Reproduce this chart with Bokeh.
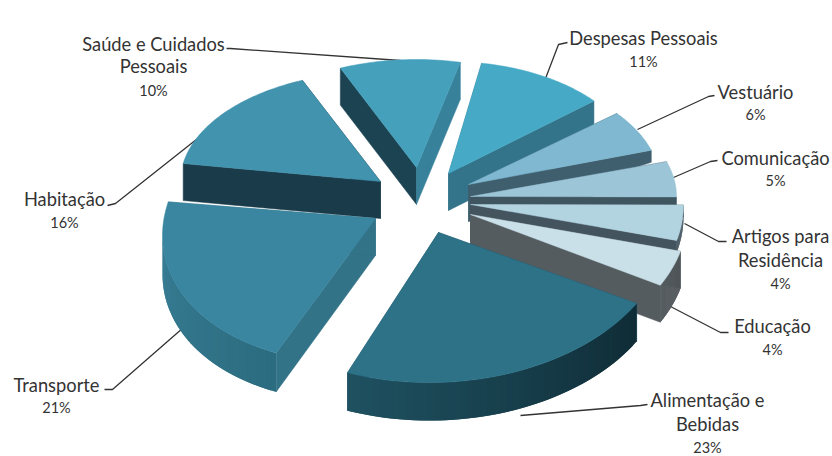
import numpy as np
from bokeh.plotting import figure
from bokeh.embed import file_html
from bokeh.resources import INLINE
from bokeh.core.properties import value

categories = ["Despesas Pessoais", "Vestuário", "Comunicação", "Artigos para\nResidência", "Educação",
              "Alimentação e\nBebidas", "Transporte", "Habitação", "Saúde e Cuidados\nPessoais"]
shares = [11, 6, 5, 4, 4, 23, 21, 16, 10]

START_DEG = 11.0
DEPTH = 37
FONT = "Lato"

# layout per slice: tip x, tip y, rx, ry, skew, rotation nudge, rim depth
geom = [
    (448, 173, 191, 112, 0, -1, 37),
    (468, 184, 192, 112, 0, 0, 12),
    (470, 196, 206, 114, 0, 0, 12),
    (470, 204, 213, 143, 0, 0, 12),
    (470, 214, 217, 146, 0, 0, 37),
    (438, 232, 230, 150, 6, 1.5, 38),
    (375, 218, 213, 143, 17, 6, 39),
    (380, 181, 200, 110, 0, 2, 37),
    (416, 167, 195, 108, 0, 2, 37),
]
top_col = ["#46aac6", "#7fb8d0", "#9cc6d8", "#b2d3e0", "#c9e0e9", "#2e7288", "#3a86a0", "#4293ae", "#45a0bc"]
wall_col = ["#34748a", "#3f5f6e", "#3f5560", "#43545e", "#555c60", "#1d4f60", "#337388", "#1a3c4a", "#1b4352"]
wall_alt = ["#34748a", "#3f5f6e", "#3f5560", "#43545e", "#555c60", "#1d4f60", "#337388", "#1a3c4a", "#37819a"]
outer_a = ["#34748a", "#3f5f6e", "#3f5560", "#43545e", "#4f5558", "#0f2c36", "#2c6c80", "#1a3c4a", "#37819a"]
outer_b = ["#34748a", "#3f5f6e", "#3f5560", "#43545e", "#555c60", "#1f5161", "#3a8198", "#1a3c4a", "#1b4352"]
paint_order = [8, 7, 0, 1, 2, 3, 4, 6, 5]

label_pos = {
    0: (643, [37], 61), 1: (755, [91], 114), 2: (775, [157], 180), 3: (780, [235, 259], 283),
    4: (772, [325], 349), 5: (707, [399, 423], 447), 6: (56, [384], 407), 7: (64, [198], 222),
    8: (153, [43, 65], 90),
}
leaders = [
    ([545, 558, 567], [78, 44, 42]), ([637, 708, 714], [129, 96, 95]), ([673, 710, 717], [177, 161, 160]),
    ([684, 718, 726], [223, 241, 241]), ([670, 720, 728], [306, 332, 332]), ([520, 640, 647], [415, 405, 404]),
    ([183, 112, 104], [327, 389, 389]), ([230, 115, 107], [112, 203, 205]), ([226, 230, 400], [48, 48, 60]),
]


def hex2rgb(h):
    return np.array([int(h[i:i + 2], 16) for i in (1, 3, 5)], float)


def lerp(a, b, t):
    c = hex2rgb(a) * (1 - t) + hex2rgb(b) * t
    return "#%02x%02x%02x" % tuple(int(round(v)) for v in c)


p = figure(width=832, height=456, x_range=(0, 832), y_range=(456, 0), output_backend="svg",
           toolbar_location=None, min_border=0, outline_line_color=None)
p.axis.visible = False
p.grid.visible = False

edges = START_DEG + np.concatenate([[0], np.cumsum(shares)]) * 3.6

xs, ys, cols, lws = [], [], [], []


def add(x, y, c, lw=0.5):
    xs.append(list(x))
    ys.append(list(y))
    cols.append(c)
    lws.append(lw)


for i in paint_order:
    tx, ty, rx, ry, sk, rot, rim = geom[i]
    th = np.radians(np.linspace(edges[i] + rot, edges[i + 1] + rot, 50))
    ax = tx + rx * np.sin(th)
    ay = ty - ry * np.cos(th) - sk * np.sin(th)
    # side walls: full depth at the tip, rim depth at the arc
    add([tx, ax[0], ax[0], tx], [ty, ay[0], ay[0] + rim, ty + DEPTH], wall_col[i])
    add([tx, ax[-1], ax[-1], tx], [ty, ay[-1], ay[-1] + rim, ty + DEPTH], wall_alt[i])
    # curved outer wall in shaded strips: only the part that faces the viewer
    for k in range(len(th) - 1):
        if ax[k + 1] >= ax[k]:
            continue
        c = lerp(outer_a[i], outer_b[i], k / (len(th) - 2))
        m = min(k + 2, len(th) - 1)
        add([ax[k], ax[m], ax[m], ax[k]], [ay[k], ay[m], ay[m] + rim, ay[k] + rim], c, 0)
    # top face
    add(np.r_[tx, ax], np.r_[ty, ay], top_col[i])

for lx, ly in leaders:
    p.line(lx, ly, line_color="#333333", line_width=1.3)

p.patches(xs, ys, fill_color=cols, line_color=cols, line_width=lws)

tx_, ty_, tt_, sz_ = [], [], [], []
for i, name in enumerate(categories):
    cx, line_y, pct_y = label_pos[i]
    for line, ly in zip(name.split("\n"), line_y):
        tx_.append(cx); ty_.append(ly); tt_.append(line); sz_.append("18.3px")
    tx_.append(cx); ty_.append(pct_y); tt_.append(f"{shares[i]}%"); sz_.append("14.5px")

p.text(tx_, ty_, text=tt_, text_font=value(FONT), text_font_size=sz_, text_color="#333333",
       text_align="center", text_baseline="middle")

open("out.html", "w").write(file_html(p, INLINE))
